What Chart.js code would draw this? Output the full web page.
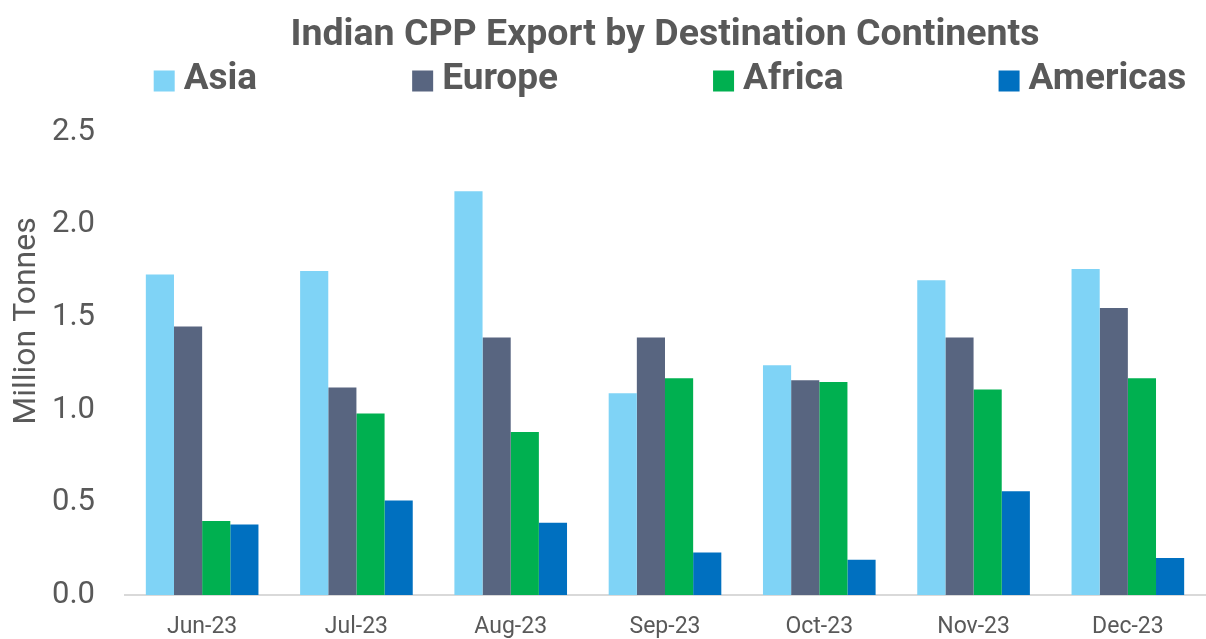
<!DOCTYPE html>
<html>
<head>
<meta charset="utf-8">
<title>Indian CPP Export by Destination Continents</title>
<script src="https://cdn.jsdelivr.net/npm/chart.js@4.4.0/dist/chart.umd.min.js"></script>
<style>
  html, body { margin: 0; padding: 0; background: #fff; }
  #wrap { width: 1206px; height: 639px; }
</style>
</head>
<body>
<div id="wrap"><canvas id="chart"></canvas></div>
<script>
const months = ['Jun-23', 'Jul-23', 'Aug-23', 'Sep-23', 'Oct-23', 'Nov-23', 'Dec-23'];
const asia = [1.73, 1.75, 2.18, 1.09, 1.24, 1.70, 1.76];
const europe = [1.45, 1.12, 1.39, 1.39, 1.16, 1.39, 1.55];
const africa = [0.40, 0.98, 0.88, 1.17, 1.15, 1.11, 1.17];
const americas = [0.38, 0.51, 0.39, 0.23, 0.19, 0.56, 0.20];
const yTicks = [0, 0.5, 1.0, 1.5, 2.0, 2.5];
const yTitle = 'Million Tonnes';

const textColor = '#595959';

// legend with wide gaps between items, drawn in the space under the title,
// plus the y axis title (it sits above the middle of the axis in the original)
const extras = {
  id: 'extras',
  afterDraw(chart, args, opts) {
    const ctx = chart.ctx;
    const area = chart.chartArea;
    const box = opts.boxSize;
    ctx.save();
    ctx.font = 'bold ' + opts.fontSize + 'px Roboto';
    const items = chart.data.datasets.map(ds => ({
      label: ds.label,
      color: ds.backgroundColor,
      w: box + opts.textGap + ctx.measureText(ds.label).width
    }));
    const total = items.reduce((s, it) => s + it.w, 0) + opts.gap * (items.length - 1);
    let x = (area.left + area.right) / 2 - total / 2 + opts.shift;
    const y = opts.y;
    ctx.textBaseline = 'middle';
    ctx.textAlign = 'left';
    items.forEach(it => {
      ctx.fillStyle = it.color;
      ctx.fillRect(x, y - box / 2, box, box);
      ctx.fillStyle = textColor;
      ctx.fillText(it.label, x + box + opts.textGap, y - 1);
      x += it.w + opts.gap;
    });

    // y axis title
    ctx.font = opts.yTitleSize + 'px Roboto';
    ctx.textAlign = 'center';
    ctx.translate(opts.yTitleX, opts.yTitleY);
    ctx.rotate(-Math.PI / 2);
    ctx.fillText(yTitle, 0, 0);
    ctx.restore();
  }
};

const ctx = document.getElementById('chart').getContext('2d');

new Chart(ctx, {
  type: 'bar',
  data: {
    labels: months,
    datasets: [
      { label: 'Asia', data: asia, backgroundColor: '#7FD3F6' },
      { label: 'Europe', data: europe, backgroundColor: '#586580' },
      { label: 'Africa', data: africa, backgroundColor: '#00B050' },
      { label: 'Americas', data: americas, backgroundColor: '#0070C0' }
    ]
  },
  options: {
    responsive: true,
    maintainAspectRatio: false,
    animation: false,
    datasets: {
      bar: {
        barPercentage: 1.0,
        categoryPercentage: 0.73,
      }
    },
    layout: {
      padding: { left: 4, right: 1, top: 0, bottom: 0 }
    },
    scales: {
      x: {
        grid: { display: false, drawTicks: false },
        border: { display: true, color: '#D9D9D9', width: 2 },
        ticks: {
          color: textColor,
          font: { family: 'Roboto', size: 23 },
          padding: 18,
        },
        afterFit: (scale) => { scale.height = 44; }
      },
      y: {
        min: 0,
        max: 2.5,
        afterBuildTicks: (scale) => {
          scale.ticks = yTicks.map(v => ({ value: v }));
        },
        grid: { display: false, drawTicks: false },
        border: { display: false },
        ticks: {
          color: textColor,
          font: { family: 'Roboto', size: 31 },
          padding: 30,
          callback: (v) => Number(v).toFixed(1),
        },
        afterFit: (scale) => {
          scale.width = 121;
          scale.paddingBottom = 20;
        }
      }
    },
    plugins: {
      title: {
        display: true,
        fullSize: false,
        text: 'Indian CPP Export by Destination Continents',
        color: textColor,
        font: { family: 'Roboto', size: 37.5, weight: 'bold' },
        padding: { top: 13, bottom: 74 },
      },
      legend: { display: false },
      tooltip: { enabled: false },
      extras: {
        fontSize: 37,
        boxSize: 21,
        textGap: 9,
        gap: 155,
        y: 81,
        shift: 5,
        yTitleSize: 32,
        yTitleX: 27,
        yTitleY: 321,
      }
    }
  },
  plugins: [extras]
});
</script>
</body>
</html>
